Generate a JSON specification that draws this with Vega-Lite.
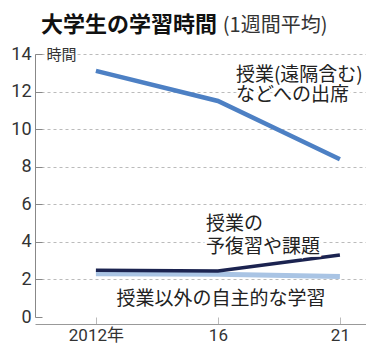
{
  "$schema": "https://vega.github.io/schema/vega-lite/v6.json",
  "padding": {"left": 10, "top": 14, "right": 0, "bottom": 0},
  "background": "white",
  "config": {"view": {"stroke": null}, "font": "Noto Sans CJK JP", "concat": {"spacing": 0}},
  "title": {
    "text": "(1週間平均)",
    "anchor": "start",
    "frame": "bounds",
    "dx": 212,
    "offset": -22,
    "font": "Noto Sans CJK JP",
    "fontSize": 20,
    "fontWeight": "normal",
    "color": "#333"
  },
  "datasets": {
    "series": [
      {"year": "2012年", "series": "出席", "value": 13.1},
      {"year": "16", "series": "出席", "value": 11.5},
      {"year": "21", "series": "出席", "value": 8.4},
      {"year": "2012年", "series": "予復習", "value": 2.49},
      {"year": "16", "series": "予復習", "value": 2.45},
      {"year": "21", "series": "予復習", "value": 3.3},
      {"year": "2012年", "series": "自主", "value": 2.3},
      {"year": "16", "series": "自主", "value": 2.27},
      {"year": "21", "series": "自主", "value": 2.16}
    ],
    "labels": [
      {"year": "21", "value": 12.86, "label": ["授業(遠隔含む)", "などへの出席"], "group": "a"},
      {"year": "21", "value": 4.97, "label": ["授業の", "予復習や課題"], "group": "b"},
      {"year": "16", "value": 0.95, "label": ["授業以外の自主的な学習"], "group": "c"}
    ]
  },
  "vconcat": [
    {
      "width": 331,
      "height": 263,
      "title": {
        "text": "大学生の学習時間",
        "anchor": "start",
        "frame": "group",
        "dx": 6,
        "offset": 8,
        "font": "Noto Sans CJK JP",
        "fontSize": 22,
        "fontWeight": "bold",
        "color": "#111"
      },
      "encoding": {
        "x": {
          "field": "year",
          "type": "ordinal",
          "sort": ["2012年", "16", "21"],
          "scale": {"type": "point", "domain": ["2012年", "16", "21"], "padding": 0.3566, "align": 0.7},
          "axis": {
            "title": null,
            "offset": 7,
            "domainColor": "#999",
            "tickColor": "#bbb",
            "tickSize": -7,
            "labelPadding": 10,
            "labelAngle": 0,
            "labelFont": "Roboto, Noto Sans CJK JP",
            "labelFontSize": 17,
            "labelColor": "#333"
          }
        },
        "y": {
          "field": "value",
          "type": "quantitative",
          "scale": {"domain": [0, 14], "nice": false, "zero": true},
          "axis": {
            "values": [0, 2, 4, 6, 8, 10, 12, 14],
            "title": "時間",
            "titleAngle": 0,
            "titleAlign": "left",
            "titleBaseline": "middle",
            "titleX": 11,
            "titleY": 0,
            "titleFont": "Noto Sans CJK JP",
            "titleFontSize": 15,
            "titleFontWeight": "normal",
            "titleColor": "#333",
            "domainColor": "#888",
            "tickColor": "#888",
            "tickSize": -7,
            "labelPadding": 11,
            "labelFont": "Roboto",
            "labelFontSize": 18,
            "labelColor": "#333",
            "grid": true,
            "gridColor": "#bbb",
            "gridDash": [3, 3],
            "gridOpacity": {"condition": {"test": "datum.value === 0", "value": 0}, "value": 1}
          }
        }
      },
      "layer": [
        {
          "data": {"name": "series"},
          "transform": [{"filter": "datum.series === '出席'"}],
          "mark": {"type": "line", "color": "#4d80c4", "strokeWidth": 4.5}
        },
        {
          "data": {"name": "series"},
          "transform": [{"filter": "datum.series === '自主'"}],
          "mark": {"type": "line", "color": "#a9c4e4", "strokeWidth": 5}
        },
        {
          "data": {"name": "series"},
          "transform": [{"filter": "datum.series === '予復習'"}],
          "mark": {"type": "line", "color": "#1b2350", "strokeWidth": 3.5}
        },
        {
          "data": {"name": "labels"},
          "transform": [{"filter": "datum.group === 'a'"}],
          "layer": [
            {"mark": {"type": "text", "align": "left", "baseline": "middle", "dx": -104, "fontSize": 19, "lineHeight": 20, "font": "Noto Sans CJK JP", "color": "white", "stroke": "white", "strokeWidth": 5}},
            {"mark": {"type": "text", "align": "left", "baseline": "middle", "dx": -104, "fontSize": 19, "lineHeight": 20, "font": "Noto Sans CJK JP", "color": "#222"}}
          ],
          "encoding": {"text": {"field": "label"}}
        },
        {
          "data": {"name": "labels"},
          "transform": [{"filter": "datum.group === 'b'"}],
          "layer": [
            {"mark": {"type": "text", "align": "left", "baseline": "middle", "dx": -134, "fontSize": 19, "lineHeight": 23, "font": "Noto Sans CJK JP", "color": "white", "stroke": "white", "strokeWidth": 5}},
            {"mark": {"type": "text", "align": "left", "baseline": "middle", "dx": -134, "fontSize": 19, "lineHeight": 23, "font": "Noto Sans CJK JP", "color": "#222"}}
          ],
          "encoding": {"text": {"field": "label"}}
        },
        {
          "data": {"name": "labels"},
          "transform": [{"filter": "datum.group === 'c'"}],
          "layer": [
            {"mark": {"type": "text", "align": "center", "baseline": "middle", "dx": 3, "fontSize": 19, "font": "Noto Sans CJK JP", "color": "white", "stroke": "white", "strokeWidth": 5}},
            {"mark": {"type": "text", "align": "center", "baseline": "middle", "dx": 3, "fontSize": 19, "font": "Noto Sans CJK JP", "color": "#222"}}
          ],
          "encoding": {"text": {"field": "label"}}
        }
      ]
    }
  ]
}
